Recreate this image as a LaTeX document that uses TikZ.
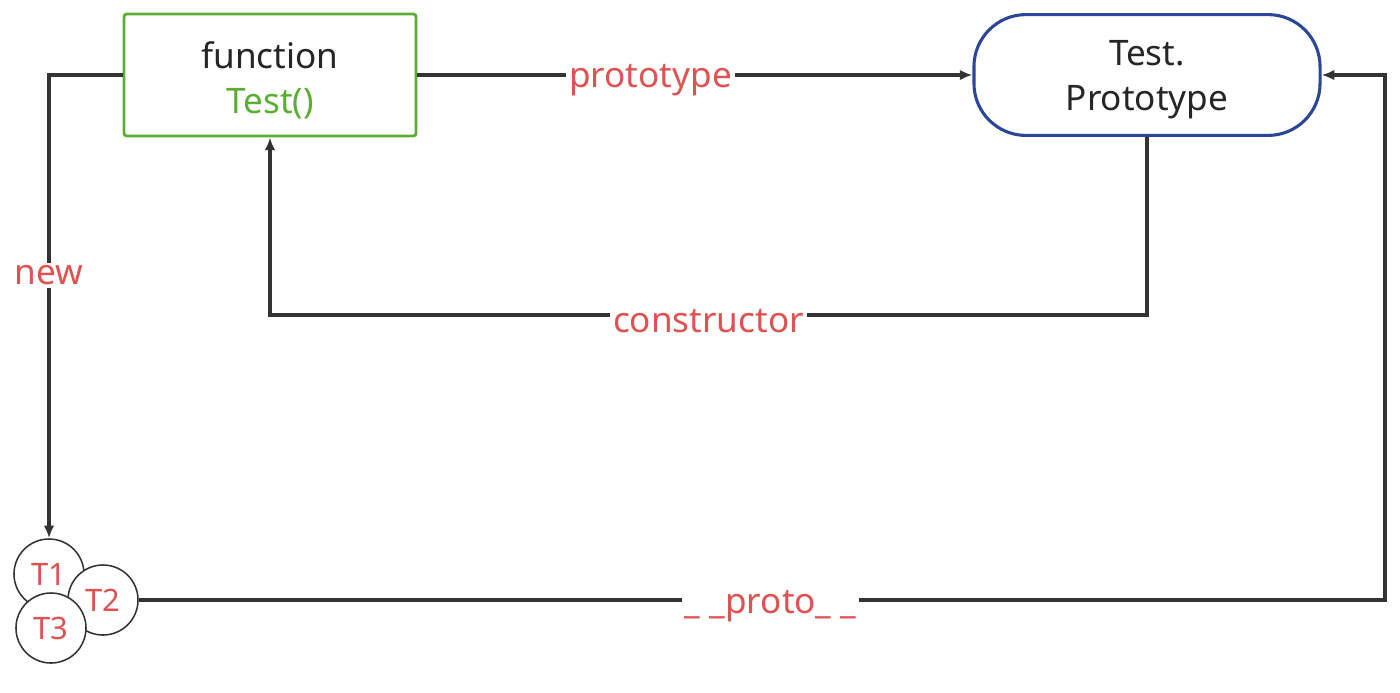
\documentclass[tikz,border=0pt]{standalone}
\usepackage{fontspec}
\setmainfont{Noto Sans}
\usetikzlibrary{arrows.meta,positioning}
\definecolor{fngreen}{HTML}{5AAF32}
\definecolor{protoblue}{HTML}{2B4598}
\definecolor{lblred}{HTML}{E05252}
\definecolor{linegray}{HTML}{333333}

\begin{document}
\begin{tikzpicture}[x=0.025cm, y=-0.025cm, draw=linegray,
      big/.style = {font=\fontsize{25}{32}\selectfont, text=black!85, align=center, yshift=-3.5pt},
      fn/.style = {draw=fngreen, line width=2pt, rounded corners=2pt, minimum width=7.3cm, minimum height=3.05cm},
      pr/.style = {draw=protoblue, line width=2.2pt, rounded corners=1.3cm, minimum width=8.65cm, minimum height=3.02cm},
      obj/.style = {draw=linegray, line width=1.1pt, circle, fill=white, minimum size=1.75cm, inner sep=0pt,
        text=lblred, font=\fontsize{22}{26}\selectfont},
      lbl/.style = {fill=white, text=lblred, font=\fontsize{25}{30}\selectfont, inner sep=2pt, yshift=-4pt},
      arr/.style = {line width=2.2pt, -{Latex[length=9pt,width=7.5pt]}}]
      \useasboundingbox (0,0) rectangle (1400,692);

      \node[fn, label={[big]center:{function\\\textcolor{fngreen}{Test()}}}] (func) at (270,75) {};
      \node[pr, label={[big]center:{Test.\\Prototype}}] (proto) at (1147,75) {};
      \node[obj] (t1) at (49,574) {T1};
      \node[obj] (t2) at (103,600) {T2};
      \node[obj] (t3) at (51,628) {T3};
      \coordinate (low) at (1147,315);
      \coordinate (rgt) at (1385,600);

      \draw[arr] (func) -- node[lbl, pos=0.42] {prototype} (proto);
      \draw[arr] (func.west) -| node[lbl, pos=0.71] {new} (t1.north);
      \draw[arr] (proto.south) -- (low) -| node[lbl, pos=0.25] {constructor} (func.south);
      \draw[arr] (t2.east) -- node[lbl, pos=0.507] {\_ \_proto\_ \_} (rgt) |- (proto.east);
    \end{tikzpicture}
\end{document}
